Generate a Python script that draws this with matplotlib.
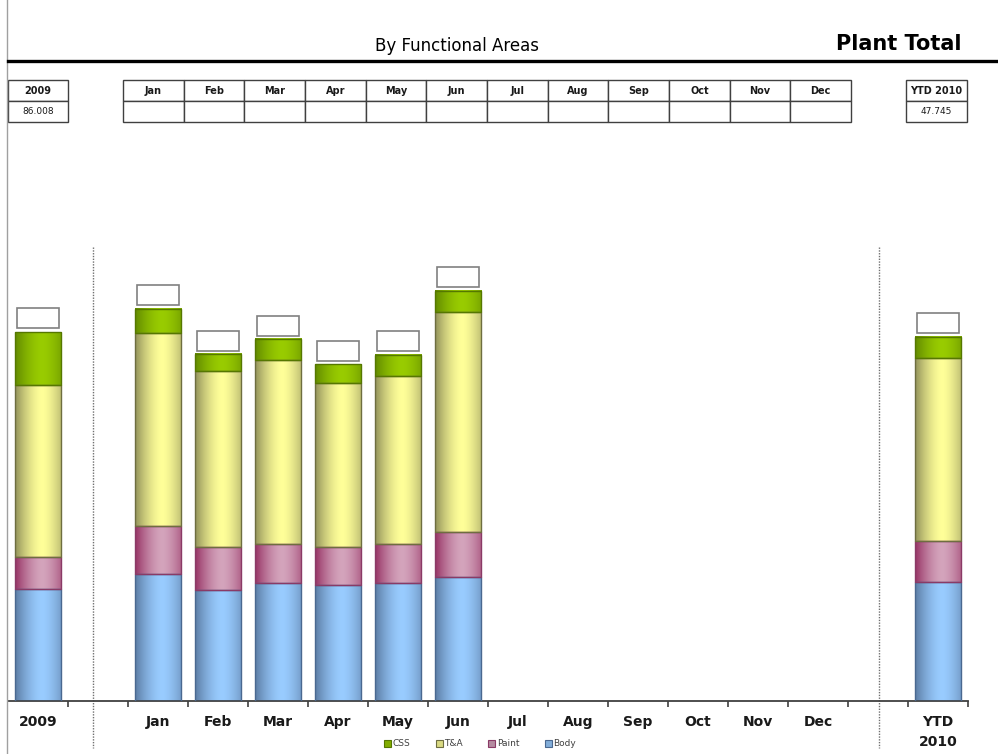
import numpy as np
import matplotlib
matplotlib.use("Agg")
from matplotlib import pyplot as plt
from matplotlib.patches import Rectangle, Patch

# ---- data ----
axis_labels = ["2009", "", "Jan", "Feb", "Mar", "Apr", "May", "Jun",
               "Jul", "Aug", "Sep", "Oct", "Nov", "Dec", "", "YTD\n2010"]
periods = ["2009", "Jan", "Feb", "Mar", "Apr", "May", "Jun", "YTD\n2010"]
body = [26.0, 29.5, 25.8, 27.4, 27.0, 27.4, 28.8, 27.7]
paint = [7.4, 11.2, 10.0, 9.1, 8.8, 9.1, 10.5, 9.5]
t_and_a = [40.2, 44.9, 40.9, 42.8, 38.1, 39.1, 51.2, 42.6]
css = [12.3, 5.6, 4.0, 4.9, 4.4, 4.9, 4.9, 4.9]

months = ["Jan", "Feb", "Mar", "Apr", "May", "Jun",
          "Jul", "Aug", "Sep", "Oct", "Nov", "Dec"]
total_2009 = "86.008"
total_ytd = "47.745"

# colours: (centre, edge, outline)
series = [
    ("Body", body, (153, 204, 255), (92, 124, 164), "#4a6890"),
    ("Paint", paint, (212, 164, 188), (150, 50, 100), "#8a3a66"),
    ("T&A", t_and_a, (255, 255, 153), (146, 146, 90), "#6e6e40"),
    ("CSS", css, (153, 204, 0), (98, 138, 0), "#557700"),
]

W, H = 998, 754
fig = plt.figure(figsize=(W / 100, H / 100), dpi=100)


def fx(x):
    return x / W


def fy(y):
    return 1 - y / H


px_per_unit = 4.3
ax = fig.add_axes([fx(8), fy(701), 960 / W, (701 - 130) / H])


def gradient(center, edge, n=80):
    t = np.linspace(0, 1, n)
    s = 1 - np.clip(np.abs(t - 0.58) / 0.58, 0, 1) ** 1.6
    c = np.array(center) / 255.0
    e = np.array(edge) / 255.0
    rgb = e + (c - e) * s[:, None]
    return rgb[None, :, :]


pos = [axis_labels.index(p) for p in periods]
bottom = np.zeros(len(periods))
for name, vals, c_center, c_edge, c_line in series:
    bars = ax.bar(pos, vals, width=0.77, bottom=bottom, facecolor="none",
                  edgecolor=c_line, linewidth=1.0, zorder=3)
    img = gradient(c_center, c_edge)
    for p in bars.patches:
        x0, y0 = p.get_x(), p.get_y()
        ax.imshow(img, extent=(x0, x0 + p.get_width(), y0, y0 + p.get_height()),
                  aspect="auto", interpolation="bilinear", zorder=2)
    bottom += np.array(vals)

# empty value boxes above each bar
for x, tot in zip(pos, bottom):
    ax.add_patch(Rectangle((x - 0.35, tot + 0.8), 0.7, 4.65, facecolor="white",
                           edgecolor="#808080", linewidth=1.2, zorder=3))

ax.set_xlim(-0.5, 15.5)
ax.set_ylim(0, (701 - 130) / px_per_unit)

# dotted separators
for xs in (0.92, 14.02):
    ax.plot([xs, xs], [(701 - 247) / px_per_unit, -47 / px_per_unit],
            linestyle=(0, (1, 1)), color="#707070", linewidth=1.0, clip_on=False)

for s in ("top", "right", "left"):
    ax.spines[s].set_visible(False)
ax.spines["bottom"].set_color("#404040")
ax.spines["bottom"].set_linewidth(1.3)
ax.set_yticks([])
ax.set_xticks(np.arange(0.5, 16, 1.0))
ax.set_xticklabels([])
ax.tick_params(axis="x", which="major", length=4, width=1.2, color="#404040")
ax.set_xticks(np.arange(16), minor=True)
ax.set_xticklabels(axis_labels, minor=True, fontsize=10, fontweight="bold",
                   color="#1a1a1a", linespacing=1.6)
ax.tick_params(axis="x", which="minor", length=0, pad=10)

# ---- header ----
fig.add_artist(plt.Line2D([fx(7), fx(7)], [0, 1], color="#a0a0a0", linewidth=1.0))
fig.add_artist(plt.Line2D([fx(8), 1], [fy(60.5), fy(60.5)], color="black", linewidth=2.4))
fig.text(fx(457), fy(46), "By Functional Areas", fontsize=12, ha="center", va="center")
fig.text(fx(961), fy(44), "Plant Total", fontsize=15, fontweight="bold",
         ha="right", va="center")


def table(x0, col_w, heads, vals):
    for i, (hd, v) in enumerate(zip(heads, vals)):
        xl = x0 + i * col_w
        for (y_top, y_bot, txt, wt, sz) in ((80, 101, hd, "bold", 7), (101, 122, v, "normal", 6.5)):
            fig.add_artist(Rectangle((fx(xl), fy(y_bot)), col_w / W, (y_bot - y_top) / H,
                                     facecolor="white", edgecolor="#404040", linewidth=1.0))
            if txt:
                fig.text(fx(xl + col_w / 2), fy((y_top + y_bot) / 2), txt, fontsize=sz,
                         fontweight=wt, ha="center", va="center", color="#1a1a1a")


table(8, 60, ["2009"], [total_2009])
table(123, (851 - 123) / 12, months, [""] * 12)
table(906, 61, ["YTD 2010"], [total_ytd])

# ---- legend ----
handles = [Patch(facecolor=np.array(s[2]) / 255 * 0.85, edgecolor=s[4], linewidth=0.8, label=s[0])
           for s in reversed(series)]
leg = fig.legend(handles=handles, loc="center", bbox_to_anchor=(fx(480), fy(744)), ncol=4,
                 frameon=False, fontsize=6.5, handlelength=0.8, handleheight=0.8,
                 handletextpad=0.15, columnspacing=2.8, borderaxespad=0)
for t in leg.get_texts():
    t.set_color("#404040")

fig.savefig("out.png", dpi=100)
